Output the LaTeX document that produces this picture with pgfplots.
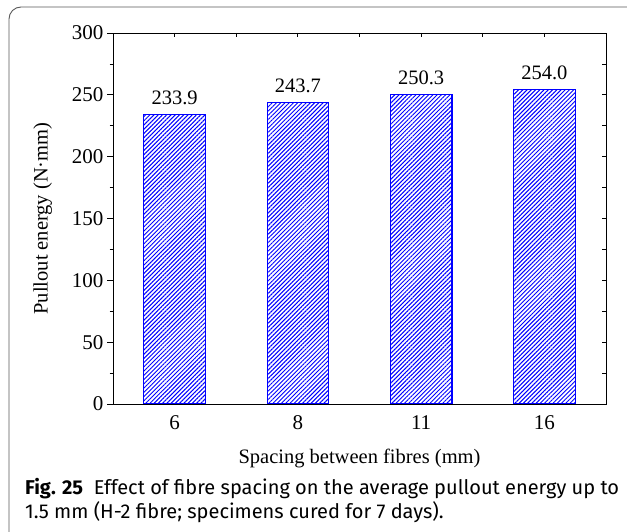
\documentclass[border=0pt]{standalone}
\usepackage{pgfplots}
\pgfplotsset{compat=1.18}
\usepackage{fontspec}
\setmainfont{Liberation Serif}
\newfontfamily\capfont{Fira Sans}
\usetikzlibrary{patterns.meta}

\pgfplotstableread{
x energy
0 233.9
1 243.7
2 250.3
3 254.0
}\pullout

\begin{document}
\begin{tikzpicture}[x=1bp,y=1bp]
\useasboundingbox (0,-532) rectangle (627,0);
% panel frame, running off the right and bottom edges
\draw[gray!70!black, line width=0.9bp, rounded corners=12bp] (9,-7) rectangle (660,-560);

\begin{axis}[
  at={(113bp,-404bp)}, anchor=south west,
  scale only axis, width=493bp, height=371bp,
  xmin=-0.5, xmax=3.5, ymin=0, ymax=300,
  xtick=data, xticklabels={6,8,11,16},
  xtick style={draw=none},
  ytick={0,50,...,300}, ytick pos=left,
  minor y tick num=1,
  tick align=outside,
  major tick length=6bp, minor tick length=3.5bp,
  every tick/.style={black, line width=0.8bp},
  axis line style={black, line width=0.9bp},
  tick label style={font=\fontsize{21bp}{22bp}\selectfont},
  xticklabel style={yshift=-2bp},
  /pgf/number format/assume math mode=true,
  xlabel={Spacing between fibres (mm)},
  ylabel={Pullout energy (N\textperiodcentered mm)},
  label style={font=\fontsize{20.5bp}{22bp}\selectfont},
  xlabel style={yshift=-13bp},
  ylabel style={yshift=13bp},
  ybar, bar width=0.5,
  nodes near coords,
  nodes near coords style={font=\fontsize{20.5bp}{22bp}\selectfont, yshift=6bp, /pgf/number format/.cd, fixed, fixed zerofill, precision=1, assume math mode=true},
]
\addplot[draw=blue, line width=1.1bp,
  pattern={Lines[angle=45, distance=3bp, line width=1bp]}, pattern color=blue]
  table[x=x, y=energy] {\pullout};
\end{axis}

% tick marks on the top and right sides, pointing inward
\begin{axis}[
  at={(113bp,-404bp)}, anchor=south west,
  scale only axis, width=493bp, height=371bp,
  xmin=-0.5, xmax=3.5, ymin=0, ymax=300,
  xtick={0,0.5,...,3}, xtick pos=right, xticklabels={},
  ytick={0,25,...,300}, ytick pos=right, yticklabels={},
  tick align=inside, major tick length=4bp,
  every tick/.style={black, line width=0.8bp},
  axis line style={black, line width=0.9bp},
]
\end{axis}

\node[anchor=base west, inner sep=0pt, font=\capfont\fontsize{20bp}{24bp}\selectfont] at (25,-494)
  {\textbf{Fig. 25}\ \ Effect of fibre spacing on the average pullout energy up to};
\node[anchor=base west, inner sep=0pt, font=\capfont\fontsize{20bp}{24bp}\selectfont] at (25,-518)
  {1.5 mm (H-2 fibre; specimens cured for 7 days).};
\end{tikzpicture}
\end{document}
